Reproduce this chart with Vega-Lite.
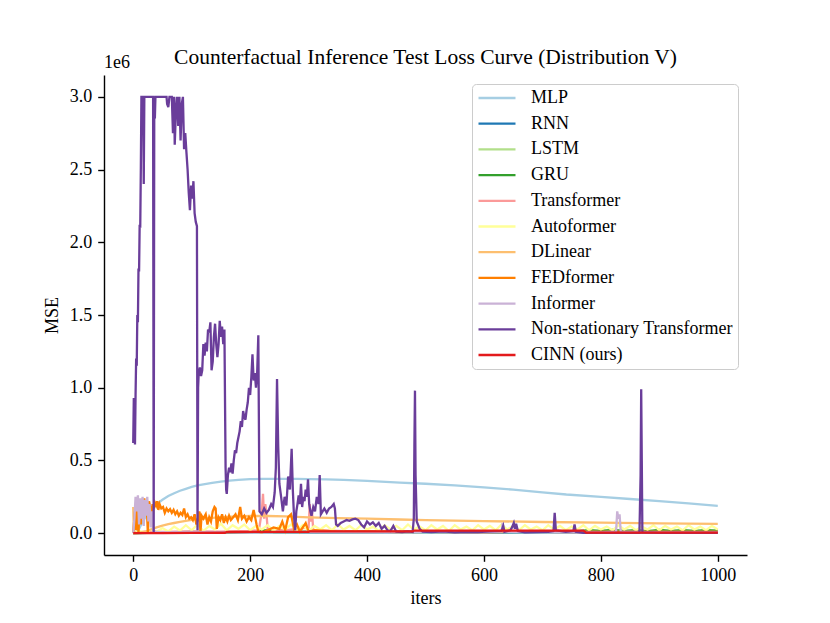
{
  "$schema": "https://vega.github.io/schema/vega-lite/v6.json",
  "width": 643,
  "height": 480,
  "autosize": {"type": "none"},
  "padding": {"left": 104, "top": 75, "right": 83, "bottom": 68},
  "background": "white",
  "title": {
    "text": "Counterfactual Inference Test Loss Curve (Distribution V)",
    "font": "Liberation Serif",
    "fontSize": 21.5,
    "fontWeight": "normal",
    "anchor": "middle",
    "offset": -14,
    "color": "black"
  },
  "config": {
    "view": {"stroke": null},
    "font": "Liberation Serif"
  },
  "layer": [
    {
      "data": {
        "values": [
          {"model": "MLP", "iter": 0, "mse": 0},
          {"model": "MLP", "iter": 5, "mse": 5000},
          {"model": "MLP", "iter": 10, "mse": 30000},
          {"model": "MLP", "iter": 15, "mse": 70000},
          {"model": "MLP", "iter": 20, "mse": 105000},
          {"model": "MLP", "iter": 25, "mse": 135000},
          {"model": "MLP", "iter": 30, "mse": 160000},
          {"model": "MLP", "iter": 40, "mse": 200000},
          {"model": "MLP", "iter": 50, "mse": 230000},
          {"model": "MLP", "iter": 60, "mse": 255000},
          {"model": "MLP", "iter": 70, "mse": 275000},
          {"model": "MLP", "iter": 80, "mse": 292000},
          {"model": "MLP", "iter": 90, "mse": 305000},
          {"model": "MLP", "iter": 100, "mse": 318000},
          {"model": "MLP", "iter": 110, "mse": 328000},
          {"model": "MLP", "iter": 120, "mse": 336000},
          {"model": "MLP", "iter": 135, "mse": 346000},
          {"model": "MLP", "iter": 150, "mse": 355000},
          {"model": "MLP", "iter": 165, "mse": 362000},
          {"model": "MLP", "iter": 180, "mse": 367000},
          {"model": "MLP", "iter": 200, "mse": 371000},
          {"model": "MLP", "iter": 220, "mse": 373000},
          {"model": "MLP", "iter": 240, "mse": 374000},
          {"model": "MLP", "iter": 260, "mse": 374000},
          {"model": "MLP", "iter": 280, "mse": 373000},
          {"model": "MLP", "iter": 300, "mse": 372000},
          {"model": "MLP", "iter": 330, "mse": 370000},
          {"model": "MLP", "iter": 360, "mse": 367000},
          {"model": "MLP", "iter": 400, "mse": 360000},
          {"model": "MLP", "iter": 456, "mse": 347000},
          {"model": "MLP", "iter": 500, "mse": 340000},
          {"model": "MLP", "iter": 550, "mse": 329000},
          {"model": "MLP", "iter": 600, "mse": 315000},
          {"model": "MLP", "iter": 650, "mse": 299000},
          {"model": "MLP", "iter": 700, "mse": 281000},
          {"model": "MLP", "iter": 741, "mse": 266000},
          {"model": "MLP", "iter": 800, "mse": 250000},
          {"model": "MLP", "iter": 850, "mse": 235000},
          {"model": "MLP", "iter": 900, "mse": 220000},
          {"model": "MLP", "iter": 950, "mse": 205000},
          {"model": "MLP", "iter": 1000, "mse": 188000},

          {"model": "RNN", "iter": 0, "mse": 0},
          {"model": "RNN", "iter": 50, "mse": 4000},
          {"model": "RNN", "iter": 100, "mse": 3000},
          {"model": "RNN", "iter": 200, "mse": 5000},
          {"model": "RNN", "iter": 300, "mse": 4000},
          {"model": "RNN", "iter": 400, "mse": 6000},
          {"model": "RNN", "iter": 500, "mse": 5000},
          {"model": "RNN", "iter": 600, "mse": 4000},
          {"model": "RNN", "iter": 700, "mse": 5000},
          {"model": "RNN", "iter": 800, "mse": 4000},
          {"model": "RNN", "iter": 900, "mse": 5000},
          {"model": "RNN", "iter": 1000, "mse": 4000},

          {"model": "LSTM", "iter": 0, "mse": 0},
          {"model": "LSTM", "iter": 100, "mse": 6000},
          {"model": "LSTM", "iter": 200, "mse": 8000},
          {"model": "LSTM", "iter": 300, "mse": 7000},
          {"model": "LSTM", "iter": 400, "mse": 9000},
          {"model": "LSTM", "iter": 500, "mse": 8000},
          {"model": "LSTM", "iter": 600, "mse": 7000},
          {"model": "LSTM", "iter": 700, "mse": 8000},
          {"model": "LSTM", "iter": 800, "mse": 9000},
          {"model": "LSTM", "iter": 900, "mse": 8000},
          {"model": "LSTM", "iter": 1000, "mse": 7000},

          {"model": "GRU", "iter": 0, "mse": 0},
          {"model": "GRU", "iter": 50, "mse": 5000},
          {"model": "GRU", "iter": 100, "mse": 8000},
          {"model": "GRU", "iter": 150, "mse": 6000},
          {"model": "GRU", "iter": 200, "mse": 10000},
          {"model": "GRU", "iter": 230, "mse": 20000},
          {"model": "GRU", "iter": 240, "mse": 8000},
          {"model": "GRU", "iter": 300, "mse": 10000},
          {"model": "GRU", "iter": 400, "mse": 8000},
          {"model": "GRU", "iter": 500, "mse": 12000},
          {"model": "GRU", "iter": 600, "mse": 10000},
          {"model": "GRU", "iter": 700, "mse": 14000},
          {"model": "GRU", "iter": 750, "mse": 10000},
          {"model": "GRU", "iter": 780, "mse": 20000},
          {"model": "GRU", "iter": 800, "mse": 15000},
          {"model": "GRU", "iter": 820, "mse": 22000},
          {"model": "GRU", "iter": 840, "mse": 15000},
          {"model": "GRU", "iter": 860, "mse": 20000},
          {"model": "GRU", "iter": 880, "mse": 14000},
          {"model": "GRU", "iter": 900, "mse": 22000},
          {"model": "GRU", "iter": 920, "mse": 16000},
          {"model": "GRU", "iter": 940, "mse": 20000},
          {"model": "GRU", "iter": 960, "mse": 15000},
          {"model": "GRU", "iter": 980, "mse": 21000},
          {"model": "GRU", "iter": 1000, "mse": 18000},

          {"model": "Transformer", "iter": 0, "mse": 0},
          {"model": "Transformer", "iter": 20, "mse": 10000},
          {"model": "Transformer", "iter": 50, "mse": 8000},
          {"model": "Transformer", "iter": 100, "mse": 12000},
          {"model": "Transformer", "iter": 150, "mse": 10000},
          {"model": "Transformer", "iter": 200, "mse": 15000},
          {"model": "Transformer", "iter": 215, "mse": 20000},
          {"model": "Transformer", "iter": 220, "mse": 150000},
          {"model": "Transformer", "iter": 222, "mse": 270000},
          {"model": "Transformer", "iter": 224, "mse": 100000},
          {"model": "Transformer", "iter": 226, "mse": 200000},
          {"model": "Transformer", "iter": 228, "mse": 130000},
          {"model": "Transformer", "iter": 230, "mse": 30000},
          {"model": "Transformer", "iter": 260, "mse": 20000},
          {"model": "Transformer", "iter": 300, "mse": 40000},
          {"model": "Transformer", "iter": 302, "mse": 200000},
          {"model": "Transformer", "iter": 304, "mse": 80000},
          {"model": "Transformer", "iter": 306, "mse": 140000},
          {"model": "Transformer", "iter": 308, "mse": 20000},
          {"model": "Transformer", "iter": 350, "mse": 15000},
          {"model": "Transformer", "iter": 400, "mse": 10000},
          {"model": "Transformer", "iter": 500, "mse": 10000},
          {"model": "Transformer", "iter": 600, "mse": 8000},
          {"model": "Transformer", "iter": 700, "mse": 10000},
          {"model": "Transformer", "iter": 800, "mse": 8000},
          {"model": "Transformer", "iter": 900, "mse": 9000},
          {"model": "Transformer", "iter": 1000, "mse": 8000},

          {"model": "Autoformer", "iter": 0, "mse": 0},
          {"model": "Autoformer", "iter": 10, "mse": 15000},
          {"model": "Autoformer", "iter": 20, "mse": 5000},
          {"model": "Autoformer", "iter": 30, "mse": 25000},
          {"model": "Autoformer", "iter": 40, "mse": 8000},
          {"model": "Autoformer", "iter": 50, "mse": 35000},
          {"model": "Autoformer", "iter": 60, "mse": 12000},
          {"model": "Autoformer", "iter": 70, "mse": 45000},
          {"model": "Autoformer", "iter": 80, "mse": 18000},
          {"model": "Autoformer", "iter": 90, "mse": 55000},
          {"model": "Autoformer", "iter": 100, "mse": 20000},
          {"model": "Autoformer", "iter": 110, "mse": 60000},
          {"model": "Autoformer", "iter": 120, "mse": 15000},
          {"model": "Autoformer", "iter": 130, "mse": 50000},
          {"model": "Autoformer", "iter": 140, "mse": 25000},
          {"model": "Autoformer", "iter": 150, "mse": 65000},
          {"model": "Autoformer", "iter": 160, "mse": 20000},
          {"model": "Autoformer", "iter": 170, "mse": 55000},
          {"model": "Autoformer", "iter": 180, "mse": 30000},
          {"model": "Autoformer", "iter": 190, "mse": 60000},
          {"model": "Autoformer", "iter": 200, "mse": 20000},
          {"model": "Autoformer", "iter": 210, "mse": 50000},
          {"model": "Autoformer", "iter": 220, "mse": 25000},
          {"model": "Autoformer", "iter": 230, "mse": 55000},
          {"model": "Autoformer", "iter": 240, "mse": 15000},
          {"model": "Autoformer", "iter": 250, "mse": 50000},
          {"model": "Autoformer", "iter": 260, "mse": 25000},
          {"model": "Autoformer", "iter": 270, "mse": 60000},
          {"model": "Autoformer", "iter": 280, "mse": 20000},
          {"model": "Autoformer", "iter": 290, "mse": 55000},
          {"model": "Autoformer", "iter": 300, "mse": 15000},
          {"model": "Autoformer", "iter": 310, "mse": 50000},
          {"model": "Autoformer", "iter": 320, "mse": 25000},
          {"model": "Autoformer", "iter": 330, "mse": 55000},
          {"model": "Autoformer", "iter": 340, "mse": 20000},
          {"model": "Autoformer", "iter": 350, "mse": 60000},
          {"model": "Autoformer", "iter": 360, "mse": 25000},
          {"model": "Autoformer", "iter": 370, "mse": 50000},
          {"model": "Autoformer", "iter": 380, "mse": 20000},
          {"model": "Autoformer", "iter": 390, "mse": 55000},
          {"model": "Autoformer", "iter": 400, "mse": 25000},
          {"model": "Autoformer", "iter": 410, "mse": 45000},
          {"model": "Autoformer", "iter": 420, "mse": 15000},
          {"model": "Autoformer", "iter": 430, "mse": 55000},
          {"model": "Autoformer", "iter": 440, "mse": 25000},
          {"model": "Autoformer", "iter": 450, "mse": 50000},
          {"model": "Autoformer", "iter": 460, "mse": 20000},
          {"model": "Autoformer", "iter": 470, "mse": 60000},
          {"model": "Autoformer", "iter": 480, "mse": 25000},
          {"model": "Autoformer", "iter": 490, "mse": 45000},
          {"model": "Autoformer", "iter": 500, "mse": 20000},
          {"model": "Autoformer", "iter": 510, "mse": 55000},
          {"model": "Autoformer", "iter": 520, "mse": 25000},
          {"model": "Autoformer", "iter": 530, "mse": 50000},
          {"model": "Autoformer", "iter": 540, "mse": 15000},
          {"model": "Autoformer", "iter": 550, "mse": 55000},
          {"model": "Autoformer", "iter": 560, "mse": 25000},
          {"model": "Autoformer", "iter": 570, "mse": 45000},
          {"model": "Autoformer", "iter": 580, "mse": 20000},
          {"model": "Autoformer", "iter": 590, "mse": 55000},
          {"model": "Autoformer", "iter": 600, "mse": 25000},
          {"model": "Autoformer", "iter": 610, "mse": 50000},
          {"model": "Autoformer", "iter": 620, "mse": 20000},
          {"model": "Autoformer", "iter": 630, "mse": 60000},
          {"model": "Autoformer", "iter": 640, "mse": 25000},
          {"model": "Autoformer", "iter": 650, "mse": 50000},
          {"model": "Autoformer", "iter": 660, "mse": 20000},
          {"model": "Autoformer", "iter": 670, "mse": 55000},
          {"model": "Autoformer", "iter": 680, "mse": 25000},
          {"model": "Autoformer", "iter": 690, "mse": 45000},
          {"model": "Autoformer", "iter": 700, "mse": 20000},
          {"model": "Autoformer", "iter": 710, "mse": 55000},
          {"model": "Autoformer", "iter": 720, "mse": 25000},
          {"model": "Autoformer", "iter": 730, "mse": 50000},
          {"model": "Autoformer", "iter": 740, "mse": 20000},
          {"model": "Autoformer", "iter": 750, "mse": 45000},
          {"model": "Autoformer", "iter": 760, "mse": 25000},
          {"model": "Autoformer", "iter": 770, "mse": 55000},
          {"model": "Autoformer", "iter": 780, "mse": 20000},
          {"model": "Autoformer", "iter": 790, "mse": 50000},
          {"model": "Autoformer", "iter": 800, "mse": 25000},
          {"model": "Autoformer", "iter": 810, "mse": 45000},
          {"model": "Autoformer", "iter": 820, "mse": 20000},
          {"model": "Autoformer", "iter": 830, "mse": 55000},
          {"model": "Autoformer", "iter": 840, "mse": 25000},
          {"model": "Autoformer", "iter": 850, "mse": 50000},
          {"model": "Autoformer", "iter": 860, "mse": 20000},
          {"model": "Autoformer", "iter": 870, "mse": 45000},
          {"model": "Autoformer", "iter": 880, "mse": 25000},
          {"model": "Autoformer", "iter": 890, "mse": 55000},
          {"model": "Autoformer", "iter": 900, "mse": 20000},
          {"model": "Autoformer", "iter": 910, "mse": 50000},
          {"model": "Autoformer", "iter": 920, "mse": 25000},
          {"model": "Autoformer", "iter": 930, "mse": 45000},
          {"model": "Autoformer", "iter": 940, "mse": 20000},
          {"model": "Autoformer", "iter": 950, "mse": 55000},
          {"model": "Autoformer", "iter": 960, "mse": 25000},
          {"model": "Autoformer", "iter": 970, "mse": 45000},
          {"model": "Autoformer", "iter": 980, "mse": 20000},
          {"model": "Autoformer", "iter": 990, "mse": 50000},
          {"model": "Autoformer", "iter": 1000, "mse": 25000},

          {"model": "DLinear", "iter": 0, "mse": 180000},
          {"model": "DLinear", "iter": 1, "mse": 20000},
          {"model": "DLinear", "iter": 3, "mse": 0},
          {"model": "DLinear", "iter": 10, "mse": 3000},
          {"model": "DLinear", "iter": 20, "mse": 10000},
          {"model": "DLinear", "iter": 30, "mse": 25000},
          {"model": "DLinear", "iter": 40, "mse": 40000},
          {"model": "DLinear", "iter": 50, "mse": 52000},
          {"model": "DLinear", "iter": 60, "mse": 62000},
          {"model": "DLinear", "iter": 70, "mse": 70000},
          {"model": "DLinear", "iter": 80, "mse": 78000},
          {"model": "DLinear", "iter": 90, "mse": 85000},
          {"model": "DLinear", "iter": 100, "mse": 91000},
          {"model": "DLinear", "iter": 120, "mse": 100000},
          {"model": "DLinear", "iter": 140, "mse": 107000},
          {"model": "DLinear", "iter": 160, "mse": 112000},
          {"model": "DLinear", "iter": 180, "mse": 116000},
          {"model": "DLinear", "iter": 200, "mse": 118000},
          {"model": "DLinear", "iter": 230, "mse": 118000},
          {"model": "DLinear", "iter": 260, "mse": 115000},
          {"model": "DLinear", "iter": 300, "mse": 109000},
          {"model": "DLinear", "iter": 350, "mse": 104000},
          {"model": "DLinear", "iter": 400, "mse": 100000},
          {"model": "DLinear", "iter": 456, "mse": 94000},
          {"model": "DLinear", "iter": 500, "mse": 90000},
          {"model": "DLinear", "iter": 600, "mse": 83000},
          {"model": "DLinear", "iter": 700, "mse": 77000},
          {"model": "DLinear", "iter": 800, "mse": 72000},
          {"model": "DLinear", "iter": 900, "mse": 68000},
          {"model": "DLinear", "iter": 1000, "mse": 64000},

          {"model": "FEDformer", "iter": 0, "mse": 0},
          {"model": "FEDformer", "iter": 3, "mse": 150000},
          {"model": "FEDformer", "iter": 5, "mse": 20000},
          {"model": "FEDformer", "iter": 7, "mse": 190000},
          {"model": "FEDformer", "iter": 9, "mse": 0},
          {"model": "FEDformer", "iter": 11, "mse": 220000},
          {"model": "FEDformer", "iter": 13, "mse": 60000},
          {"model": "FEDformer", "iter": 15, "mse": 230000},
          {"model": "FEDformer", "iter": 17, "mse": 100000},
          {"model": "FEDformer", "iter": 19, "mse": 240000},
          {"model": "FEDformer", "iter": 21, "mse": 150000},
          {"model": "FEDformer", "iter": 23, "mse": 200000},
          {"model": "FEDformer", "iter": 25, "mse": 0},
          {"model": "FEDformer", "iter": 27, "mse": 220000},
          {"model": "FEDformer", "iter": 29, "mse": 180000},
          {"model": "FEDformer", "iter": 31, "mse": 60000},
          {"model": "FEDformer", "iter": 33, "mse": 200000},
          {"model": "FEDformer", "iter": 35, "mse": 170000},
          {"model": "FEDformer", "iter": 37, "mse": 210000},
          {"model": "FEDformer", "iter": 39, "mse": 190000},
          {"model": "FEDformer", "iter": 41, "mse": 220000},
          {"model": "FEDformer", "iter": 43, "mse": 160000},
          {"model": "FEDformer", "iter": 45, "mse": 200000},
          {"model": "FEDformer", "iter": 48, "mse": 170000},
          {"model": "FEDformer", "iter": 51, "mse": 180000},
          {"model": "FEDformer", "iter": 54, "mse": 140000},
          {"model": "FEDformer", "iter": 57, "mse": 170000},
          {"model": "FEDformer", "iter": 60, "mse": 150000},
          {"model": "FEDformer", "iter": 63, "mse": 165000},
          {"model": "FEDformer", "iter": 66, "mse": 140000},
          {"model": "FEDformer", "iter": 69, "mse": 160000},
          {"model": "FEDformer", "iter": 72, "mse": 130000},
          {"model": "FEDformer", "iter": 75, "mse": 150000},
          {"model": "FEDformer", "iter": 78, "mse": 120000},
          {"model": "FEDformer", "iter": 81, "mse": 140000},
          {"model": "FEDformer", "iter": 84, "mse": 125000},
          {"model": "FEDformer", "iter": 87, "mse": 170000},
          {"model": "FEDformer", "iter": 90, "mse": 110000},
          {"model": "FEDformer", "iter": 93, "mse": 130000},
          {"model": "FEDformer", "iter": 96, "mse": 100000},
          {"model": "FEDformer", "iter": 99, "mse": 110000},
          {"model": "FEDformer", "iter": 102, "mse": 90000},
          {"model": "FEDformer", "iter": 105, "mse": 130000},
          {"model": "FEDformer", "iter": 108, "mse": 60000},
          {"model": "FEDformer", "iter": 111, "mse": 100000},
          {"model": "FEDformer", "iter": 113, "mse": 150000},
          {"model": "FEDformer", "iter": 115, "mse": 10000},
          {"model": "FEDformer", "iter": 117, "mse": 120000},
          {"model": "FEDformer", "iter": 120, "mse": 100000},
          {"model": "FEDformer", "iter": 124, "mse": 130000},
          {"model": "FEDformer", "iter": 127, "mse": 60000},
          {"model": "FEDformer", "iter": 130, "mse": 110000},
          {"model": "FEDformer", "iter": 133, "mse": 80000},
          {"model": "FEDformer", "iter": 136, "mse": 150000},
          {"model": "FEDformer", "iter": 139, "mse": 180000},
          {"model": "FEDformer", "iter": 141, "mse": 170000},
          {"model": "FEDformer", "iter": 143, "mse": 30000},
          {"model": "FEDformer", "iter": 146, "mse": 110000},
          {"model": "FEDformer", "iter": 149, "mse": 90000},
          {"model": "FEDformer", "iter": 152, "mse": 130000},
          {"model": "FEDformer", "iter": 155, "mse": 70000},
          {"model": "FEDformer", "iter": 158, "mse": 110000},
          {"model": "FEDformer", "iter": 161, "mse": 80000},
          {"model": "FEDformer", "iter": 164, "mse": 120000},
          {"model": "FEDformer", "iter": 167, "mse": 90000},
          {"model": "FEDformer", "iter": 171, "mse": 110000},
          {"model": "FEDformer", "iter": 175, "mse": 130000},
          {"model": "FEDformer", "iter": 179, "mse": 90000},
          {"model": "FEDformer", "iter": 183, "mse": 180000},
          {"model": "FEDformer", "iter": 186, "mse": 100000},
          {"model": "FEDformer", "iter": 190, "mse": 120000},
          {"model": "FEDformer", "iter": 194, "mse": 80000},
          {"model": "FEDformer", "iter": 198, "mse": 110000},
          {"model": "FEDformer", "iter": 202, "mse": 90000},
          {"model": "FEDformer", "iter": 206, "mse": 160000},
          {"model": "FEDformer", "iter": 209, "mse": 100000},
          {"model": "FEDformer", "iter": 211, "mse": 60000},
          {"model": "FEDformer", "iter": 214, "mse": 10000},
          {"model": "FEDformer", "iter": 220, "mse": 5000},
          {"model": "FEDformer", "iter": 230, "mse": 20000},
          {"model": "FEDformer", "iter": 240, "mse": 40000},
          {"model": "FEDformer", "iter": 250, "mse": 30000},
          {"model": "FEDformer", "iter": 255, "mse": 80000},
          {"model": "FEDformer", "iter": 260, "mse": 20000},
          {"model": "FEDformer", "iter": 265, "mse": 110000},
          {"model": "FEDformer", "iter": 270, "mse": 130000},
          {"model": "FEDformer", "iter": 275, "mse": 30000},
          {"model": "FEDformer", "iter": 280, "mse": 60000},
          {"model": "FEDformer", "iter": 285, "mse": 10000},
          {"model": "FEDformer", "iter": 290, "mse": 40000},
          {"model": "FEDformer", "iter": 295, "mse": 70000},
          {"model": "FEDformer", "iter": 300, "mse": 10000},
          {"model": "FEDformer", "iter": 310, "mse": 20000},
          {"model": "FEDformer", "iter": 330, "mse": 15000},
          {"model": "FEDformer", "iter": 350, "mse": 10000},
          {"model": "FEDformer", "iter": 400, "mse": 12000},
          {"model": "FEDformer", "iter": 450, "mse": 8000},
          {"model": "FEDformer", "iter": 500, "mse": 10000},
          {"model": "FEDformer", "iter": 600, "mse": 8000},
          {"model": "FEDformer", "iter": 700, "mse": 9000},
          {"model": "FEDformer", "iter": 800, "mse": 8000},
          {"model": "FEDformer", "iter": 900, "mse": 9000},
          {"model": "FEDformer", "iter": 1000, "mse": 8000},

          {"model": "Informer", "iter": 0, "mse": 0},
          {"model": "Informer", "iter": 2, "mse": 100000},
          {"model": "Informer", "iter": 4, "mse": 250000},
          {"model": "Informer", "iter": 6, "mse": 150000},
          {"model": "Informer", "iter": 8, "mse": 260000},
          {"model": "Informer", "iter": 10, "mse": 60000},
          {"model": "Informer", "iter": 12, "mse": 240000},
          {"model": "Informer", "iter": 14, "mse": 100000},
          {"model": "Informer", "iter": 16, "mse": 250000},
          {"model": "Informer", "iter": 18, "mse": 50000},
          {"model": "Informer", "iter": 20, "mse": 230000},
          {"model": "Informer", "iter": 22, "mse": 120000},
          {"model": "Informer", "iter": 24, "mse": 250000},
          {"model": "Informer", "iter": 26, "mse": 80000},
          {"model": "Informer", "iter": 28, "mse": 200000},
          {"model": "Informer", "iter": 30, "mse": 40000},
          {"model": "Informer", "iter": 32, "mse": 150000},
          {"model": "Informer", "iter": 34, "mse": 20000},
          {"model": "Informer", "iter": 38, "mse": 10000},
          {"model": "Informer", "iter": 50, "mse": 5000},
          {"model": "Informer", "iter": 100, "mse": 8000},
          {"model": "Informer", "iter": 200, "mse": 6000},
          {"model": "Informer", "iter": 300, "mse": 8000},
          {"model": "Informer", "iter": 400, "mse": 6000},
          {"model": "Informer", "iter": 500, "mse": 10000},
          {"model": "Informer", "iter": 600, "mse": 8000},
          {"model": "Informer", "iter": 630, "mse": 10000},
          {"model": "Informer", "iter": 632, "mse": 70000},
          {"model": "Informer", "iter": 634, "mse": 10000},
          {"model": "Informer", "iter": 700, "mse": 8000},
          {"model": "Informer", "iter": 800, "mse": 6000},
          {"model": "Informer", "iter": 826, "mse": 10000},
          {"model": "Informer", "iter": 828, "mse": 150000},
          {"model": "Informer", "iter": 830, "mse": 100000},
          {"model": "Informer", "iter": 832, "mse": 130000},
          {"model": "Informer", "iter": 834, "mse": 10000},
          {"model": "Informer", "iter": 900, "mse": 6000},
          {"model": "Informer", "iter": 1000, "mse": 5000},

          {"model": "Non-stationary Transformer", "iter": 0, "mse": 620000},
          {"model": "Non-stationary Transformer", "iter": 1, "mse": 930000},
          {"model": "Non-stationary Transformer", "iter": 2, "mse": 880000},
          {"model": "Non-stationary Transformer", "iter": 3, "mse": 610000},
          {"model": "Non-stationary Transformer", "iter": 4, "mse": 950000},
          {"model": "Non-stationary Transformer", "iter": 5, "mse": 1200000},
          {"model": "Non-stationary Transformer", "iter": 6, "mse": 1150000},
          {"model": "Non-stationary Transformer", "iter": 7, "mse": 1500000},
          {"model": "Non-stationary Transformer", "iter": 8, "mse": 1450000},
          {"model": "Non-stationary Transformer", "iter": 9, "mse": 1820000},
          {"model": "Non-stationary Transformer", "iter": 10, "mse": 1800000},
          {"model": "Non-stationary Transformer", "iter": 11, "mse": 2120000},
          {"model": "Non-stationary Transformer", "iter": 12, "mse": 2100000},
          {"model": "Non-stationary Transformer", "iter": 13, "mse": 2500000},
          {"model": "Non-stationary Transformer", "iter": 14, "mse": 3000000},
          {"model": "Non-stationary Transformer", "iter": 17, "mse": 3000000},
          {"model": "Non-stationary Transformer", "iter": 18, "mse": 2400000},
          {"model": "Non-stationary Transformer", "iter": 19, "mse": 3000000},
          {"model": "Non-stationary Transformer", "iter": 34, "mse": 3000000},
          {"model": "Non-stationary Transformer", "iter": 35, "mse": 0},
          {"model": "Non-stationary Transformer", "iter": 36, "mse": 3000000},
          {"model": "Non-stationary Transformer", "iter": 37, "mse": 2850000},
          {"model": "Non-stationary Transformer", "iter": 38, "mse": 3000000},
          {"model": "Non-stationary Transformer", "iter": 57, "mse": 3000000},
          {"model": "Non-stationary Transformer", "iter": 58, "mse": 2950000},
          {"model": "Non-stationary Transformer", "iter": 60, "mse": 2930000},
          {"model": "Non-stationary Transformer", "iter": 62, "mse": 3000000},
          {"model": "Non-stationary Transformer", "iter": 66, "mse": 3000000},
          {"model": "Non-stationary Transformer", "iter": 68, "mse": 2750000},
          {"model": "Non-stationary Transformer", "iter": 70, "mse": 3000000},
          {"model": "Non-stationary Transformer", "iter": 71, "mse": 2670000},
          {"model": "Non-stationary Transformer", "iter": 73, "mse": 2900000},
          {"model": "Non-stationary Transformer", "iter": 75, "mse": 3000000},
          {"model": "Non-stationary Transformer", "iter": 77, "mse": 2800000},
          {"model": "Non-stationary Transformer", "iter": 79, "mse": 3000000},
          {"model": "Non-stationary Transformer", "iter": 81, "mse": 2700000},
          {"model": "Non-stationary Transformer", "iter": 83, "mse": 2950000},
          {"model": "Non-stationary Transformer", "iter": 85, "mse": 3000000},
          {"model": "Non-stationary Transformer", "iter": 87, "mse": 2640000},
          {"model": "Non-stationary Transformer", "iter": 89, "mse": 2750000},
          {"model": "Non-stationary Transformer", "iter": 91, "mse": 2620000},
          {"model": "Non-stationary Transformer", "iter": 93, "mse": 2500000},
          {"model": "Non-stationary Transformer", "iter": 95, "mse": 2340000},
          {"model": "Non-stationary Transformer", "iter": 97, "mse": 2220000},
          {"model": "Non-stationary Transformer", "iter": 99, "mse": 2390000},
          {"model": "Non-stationary Transformer", "iter": 101, "mse": 2300000},
          {"model": "Non-stationary Transformer", "iter": 103, "mse": 2420000},
          {"model": "Non-stationary Transformer", "iter": 105, "mse": 2200000},
          {"model": "Non-stationary Transformer", "iter": 107, "mse": 2140000},
          {"model": "Non-stationary Transformer", "iter": 109, "mse": 2110000},
          {"model": "Non-stationary Transformer", "iter": 110, "mse": 20000},
          {"model": "Non-stationary Transformer", "iter": 111, "mse": 1000000},
          {"model": "Non-stationary Transformer", "iter": 112, "mse": 1100000},
          {"model": "Non-stationary Transformer", "iter": 114, "mse": 1140000},
          {"model": "Non-stationary Transformer", "iter": 116, "mse": 1080000},
          {"model": "Non-stationary Transformer", "iter": 118, "mse": 1120000},
          {"model": "Non-stationary Transformer", "iter": 120, "mse": 1300000},
          {"model": "Non-stationary Transformer", "iter": 122, "mse": 1220000},
          {"model": "Non-stationary Transformer", "iter": 124, "mse": 1310000},
          {"model": "Non-stationary Transformer", "iter": 126, "mse": 1250000},
          {"model": "Non-stationary Transformer", "iter": 128, "mse": 1400000},
          {"model": "Non-stationary Transformer", "iter": 130, "mse": 1380000},
          {"model": "Non-stationary Transformer", "iter": 132, "mse": 1450000},
          {"model": "Non-stationary Transformer", "iter": 134, "mse": 1120000},
          {"model": "Non-stationary Transformer", "iter": 136, "mse": 1180000},
          {"model": "Non-stationary Transformer", "iter": 138, "mse": 1350000},
          {"model": "Non-stationary Transformer", "iter": 140, "mse": 1440000},
          {"model": "Non-stationary Transformer", "iter": 142, "mse": 1300000},
          {"model": "Non-stationary Transformer", "iter": 144, "mse": 1210000},
          {"model": "Non-stationary Transformer", "iter": 146, "mse": 1300000},
          {"model": "Non-stationary Transformer", "iter": 148, "mse": 1460000},
          {"model": "Non-stationary Transformer", "iter": 150, "mse": 1350000},
          {"model": "Non-stationary Transformer", "iter": 152, "mse": 1420000},
          {"model": "Non-stationary Transformer", "iter": 154, "mse": 1300000},
          {"model": "Non-stationary Transformer", "iter": 156, "mse": 1400000},
          {"model": "Non-stationary Transformer", "iter": 158, "mse": 450000},
          {"model": "Non-stationary Transformer", "iter": 159, "mse": 300000},
          {"model": "Non-stationary Transformer", "iter": 160, "mse": 270000},
          {"model": "Non-stationary Transformer", "iter": 162, "mse": 400000},
          {"model": "Non-stationary Transformer", "iter": 164, "mse": 450000},
          {"model": "Non-stationary Transformer", "iter": 166, "mse": 420000},
          {"model": "Non-stationary Transformer", "iter": 168, "mse": 480000},
          {"model": "Non-stationary Transformer", "iter": 170, "mse": 410000},
          {"model": "Non-stationary Transformer", "iter": 172, "mse": 500000},
          {"model": "Non-stationary Transformer", "iter": 174, "mse": 570000},
          {"model": "Non-stationary Transformer", "iter": 176, "mse": 550000},
          {"model": "Non-stationary Transformer", "iter": 178, "mse": 620000},
          {"model": "Non-stationary Transformer", "iter": 180, "mse": 660000},
          {"model": "Non-stationary Transformer", "iter": 182, "mse": 700000},
          {"model": "Non-stationary Transformer", "iter": 184, "mse": 770000},
          {"model": "Non-stationary Transformer", "iter": 186, "mse": 730000},
          {"model": "Non-stationary Transformer", "iter": 188, "mse": 840000},
          {"model": "Non-stationary Transformer", "iter": 190, "mse": 800000},
          {"model": "Non-stationary Transformer", "iter": 192, "mse": 780000},
          {"model": "Non-stationary Transformer", "iter": 194, "mse": 850000},
          {"model": "Non-stationary Transformer", "iter": 196, "mse": 900000},
          {"model": "Non-stationary Transformer", "iter": 198, "mse": 1000000},
          {"model": "Non-stationary Transformer", "iter": 200, "mse": 950000},
          {"model": "Non-stationary Transformer", "iter": 202, "mse": 1070000},
          {"model": "Non-stationary Transformer", "iter": 204, "mse": 1230000},
          {"model": "Non-stationary Transformer", "iter": 206, "mse": 1050000},
          {"model": "Non-stationary Transformer", "iter": 208, "mse": 1100000},
          {"model": "Non-stationary Transformer", "iter": 210, "mse": 1000000},
          {"model": "Non-stationary Transformer", "iter": 212, "mse": 1100000},
          {"model": "Non-stationary Transformer", "iter": 214, "mse": 1360000},
          {"model": "Non-stationary Transformer", "iter": 216, "mse": 150000},
          {"model": "Non-stationary Transformer", "iter": 220, "mse": 130000},
          {"model": "Non-stationary Transformer", "iter": 224, "mse": 170000},
          {"model": "Non-stationary Transformer", "iter": 228, "mse": 140000},
          {"model": "Non-stationary Transformer", "iter": 232, "mse": 160000},
          {"model": "Non-stationary Transformer", "iter": 236, "mse": 200000},
          {"model": "Non-stationary Transformer", "iter": 239, "mse": 180000},
          {"model": "Non-stationary Transformer", "iter": 242, "mse": 280000},
          {"model": "Non-stationary Transformer", "iter": 244, "mse": 450000},
          {"model": "Non-stationary Transformer", "iter": 246, "mse": 1060000},
          {"model": "Non-stationary Transformer", "iter": 248, "mse": 600000},
          {"model": "Non-stationary Transformer", "iter": 250, "mse": 340000},
          {"model": "Non-stationary Transformer", "iter": 253, "mse": 250000},
          {"model": "Non-stationary Transformer", "iter": 256, "mse": 150000},
          {"model": "Non-stationary Transformer", "iter": 259, "mse": 250000},
          {"model": "Non-stationary Transformer", "iter": 262, "mse": 190000},
          {"model": "Non-stationary Transformer", "iter": 265, "mse": 390000},
          {"model": "Non-stationary Transformer", "iter": 268, "mse": 300000},
          {"model": "Non-stationary Transformer", "iter": 271, "mse": 580000},
          {"model": "Non-stationary Transformer", "iter": 273, "mse": 300000},
          {"model": "Non-stationary Transformer", "iter": 275, "mse": 120000},
          {"model": "Non-stationary Transformer", "iter": 277, "mse": 20000},
          {"model": "Non-stationary Transformer", "iter": 279, "mse": 150000},
          {"model": "Non-stationary Transformer", "iter": 281, "mse": 200000},
          {"model": "Non-stationary Transformer", "iter": 283, "mse": 260000},
          {"model": "Non-stationary Transformer", "iter": 285, "mse": 200000},
          {"model": "Non-stationary Transformer", "iter": 287, "mse": 340000},
          {"model": "Non-stationary Transformer", "iter": 289, "mse": 180000},
          {"model": "Non-stationary Transformer", "iter": 291, "mse": 250000},
          {"model": "Non-stationary Transformer", "iter": 293, "mse": 220000},
          {"model": "Non-stationary Transformer", "iter": 295, "mse": 300000},
          {"model": "Non-stationary Transformer", "iter": 297, "mse": 250000},
          {"model": "Non-stationary Transformer", "iter": 299, "mse": 370000},
          {"model": "Non-stationary Transformer", "iter": 301, "mse": 200000},
          {"model": "Non-stationary Transformer", "iter": 303, "mse": 150000},
          {"model": "Non-stationary Transformer", "iter": 305, "mse": 120000},
          {"model": "Non-stationary Transformer", "iter": 308, "mse": 180000},
          {"model": "Non-stationary Transformer", "iter": 311, "mse": 150000},
          {"model": "Non-stationary Transformer", "iter": 314, "mse": 250000},
          {"model": "Non-stationary Transformer", "iter": 317, "mse": 200000},
          {"model": "Non-stationary Transformer", "iter": 319, "mse": 400000},
          {"model": "Non-stationary Transformer", "iter": 321, "mse": 130000},
          {"model": "Non-stationary Transformer", "iter": 324, "mse": 150000},
          {"model": "Non-stationary Transformer", "iter": 327, "mse": 170000},
          {"model": "Non-stationary Transformer", "iter": 331, "mse": 140000},
          {"model": "Non-stationary Transformer", "iter": 335, "mse": 170000},
          {"model": "Non-stationary Transformer", "iter": 339, "mse": 180000},
          {"model": "Non-stationary Transformer", "iter": 343, "mse": 200000},
          {"model": "Non-stationary Transformer", "iter": 345, "mse": 170000},
          {"model": "Non-stationary Transformer", "iter": 347, "mse": 60000},
          {"model": "Non-stationary Transformer", "iter": 350, "mse": 50000},
          {"model": "Non-stationary Transformer", "iter": 355, "mse": 70000},
          {"model": "Non-stationary Transformer", "iter": 360, "mse": 80000},
          {"model": "Non-stationary Transformer", "iter": 365, "mse": 90000},
          {"model": "Non-stationary Transformer", "iter": 370, "mse": 85000},
          {"model": "Non-stationary Transformer", "iter": 375, "mse": 95000},
          {"model": "Non-stationary Transformer", "iter": 380, "mse": 100000},
          {"model": "Non-stationary Transformer", "iter": 385, "mse": 90000},
          {"model": "Non-stationary Transformer", "iter": 390, "mse": 60000},
          {"model": "Non-stationary Transformer", "iter": 395, "mse": 40000},
          {"model": "Non-stationary Transformer", "iter": 400, "mse": 80000},
          {"model": "Non-stationary Transformer", "iter": 405, "mse": 60000},
          {"model": "Non-stationary Transformer", "iter": 410, "mse": 75000},
          {"model": "Non-stationary Transformer", "iter": 415, "mse": 50000},
          {"model": "Non-stationary Transformer", "iter": 420, "mse": 70000},
          {"model": "Non-stationary Transformer", "iter": 425, "mse": 30000},
          {"model": "Non-stationary Transformer", "iter": 430, "mse": 50000},
          {"model": "Non-stationary Transformer", "iter": 435, "mse": 20000},
          {"model": "Non-stationary Transformer", "iter": 440, "mse": 15000},
          {"model": "Non-stationary Transformer", "iter": 445, "mse": 50000},
          {"model": "Non-stationary Transformer", "iter": 450, "mse": 10000},
          {"model": "Non-stationary Transformer", "iter": 460, "mse": 8000},
          {"model": "Non-stationary Transformer", "iter": 470, "mse": 12000},
          {"model": "Non-stationary Transformer", "iter": 478, "mse": 8000},
          {"model": "Non-stationary Transformer", "iter": 480, "mse": 100000},
          {"model": "Non-stationary Transformer", "iter": 481, "mse": 600000},
          {"model": "Non-stationary Transformer", "iter": 482, "mse": 980000},
          {"model": "Non-stationary Transformer", "iter": 483, "mse": 400000},
          {"model": "Non-stationary Transformer", "iter": 485, "mse": 80000},
          {"model": "Non-stationary Transformer", "iter": 488, "mse": 50000},
          {"model": "Non-stationary Transformer", "iter": 490, "mse": 30000},
          {"model": "Non-stationary Transformer", "iter": 495, "mse": 10000},
          {"model": "Non-stationary Transformer", "iter": 510, "mse": 8000},
          {"model": "Non-stationary Transformer", "iter": 530, "mse": 12000},
          {"model": "Non-stationary Transformer", "iter": 550, "mse": 6000},
          {"model": "Non-stationary Transformer", "iter": 570, "mse": 10000},
          {"model": "Non-stationary Transformer", "iter": 590, "mse": 8000},
          {"model": "Non-stationary Transformer", "iter": 610, "mse": 12000},
          {"model": "Non-stationary Transformer", "iter": 630, "mse": 15000},
          {"model": "Non-stationary Transformer", "iter": 633, "mse": 50000},
          {"model": "Non-stationary Transformer", "iter": 635, "mse": 10000},
          {"model": "Non-stationary Transformer", "iter": 645, "mse": 20000},
          {"model": "Non-stationary Transformer", "iter": 648, "mse": 40000},
          {"model": "Non-stationary Transformer", "iter": 651, "mse": 70000},
          {"model": "Non-stationary Transformer", "iter": 653, "mse": 30000},
          {"model": "Non-stationary Transformer", "iter": 655, "mse": 65000},
          {"model": "Non-stationary Transformer", "iter": 658, "mse": 15000},
          {"model": "Non-stationary Transformer", "iter": 670, "mse": 5000},
          {"model": "Non-stationary Transformer", "iter": 690, "mse": 8000},
          {"model": "Non-stationary Transformer", "iter": 710, "mse": 10000},
          {"model": "Non-stationary Transformer", "iter": 719, "mse": 15000},
          {"model": "Non-stationary Transformer", "iter": 721, "mse": 140000},
          {"model": "Non-stationary Transformer", "iter": 723, "mse": 20000},
          {"model": "Non-stationary Transformer", "iter": 740, "mse": 10000},
          {"model": "Non-stationary Transformer", "iter": 753, "mse": 15000},
          {"model": "Non-stationary Transformer", "iter": 755, "mse": 60000},
          {"model": "Non-stationary Transformer", "iter": 757, "mse": 10000},
          {"model": "Non-stationary Transformer", "iter": 770, "mse": 3000},
          {"model": "Non-stationary Transformer", "iter": 800, "mse": 2000},
          {"model": "Non-stationary Transformer", "iter": 850, "mse": 2000},
          {"model": "Non-stationary Transformer", "iter": 866, "mse": 3000},
          {"model": "Non-stationary Transformer", "iter": 868, "mse": 400000},
          {"model": "Non-stationary Transformer", "iter": 869, "mse": 990000},
          {"model": "Non-stationary Transformer", "iter": 870, "mse": 500000},
          {"model": "Non-stationary Transformer", "iter": 871, "mse": 5000},
          {"model": "Non-stationary Transformer", "iter": 900, "mse": 2000},
          {"model": "Non-stationary Transformer", "iter": 950, "mse": 2000},
          {"model": "Non-stationary Transformer", "iter": 1000, "mse": 2000},

          {"model": "CINN (ours)", "iter": 0, "mse": 0},
          {"model": "CINN (ours)", "iter": 50, "mse": 1000},
          {"model": "CINN (ours)", "iter": 100, "mse": 2000},
          {"model": "CINN (ours)", "iter": 157, "mse": 3000},
          {"model": "CINN (ours)", "iter": 160, "mse": 8000},
          {"model": "CINN (ours)", "iter": 300, "mse": 9000},
          {"model": "CINN (ours)", "iter": 302, "mse": 12000},
          {"model": "CINN (ours)", "iter": 478, "mse": 12000},
          {"model": "CINN (ours)", "iter": 481, "mse": 18000},
          {"model": "CINN (ours)", "iter": 770, "mse": 18000},
          {"model": "CINN (ours)", "iter": 775, "mse": 4000},
          {"model": "CINN (ours)", "iter": 1000, "mse": 4000}
        ]
      },
      "mark": {"type": "line", "strokeWidth": 2.3, "clip": true},
      "encoding": {
        "x": {
          "field": "iter",
          "type": "quantitative",
          "scale": {"domain": [-50, 1050], "nice": false, "zero": false},
          "axis": {
            "title": "iters",
            "values": [0, 200, 400, 600, 800, 1000],
            "format": "d",
            "grid": false,
            "domainColor": "black",
            "domainWidth": 1.4,
            "tickColor": "black",
            "tickWidth": 1.4,
            "tickSize": 6.3,
            "labelFont": "Liberation Serif",
            "labelFontSize": 18,
            "labelColor": "black",
            "labelPadding": 5,
            "labelFlush": false,
            "titleFont": "Liberation Serif",
            "titleFontSize": 18,
            "titleFontWeight": "normal",
            "titleColor": "black",
            "titlePadding": 5
          }
        },
        "y": {
          "field": "mse",
          "type": "quantitative",
          "scale": {"domain": [-150000, 3150000], "nice": false, "zero": false},
          "axis": {
            "title": "MSE",
            "values": [0, 500000, 1000000, 1500000, 2000000, 2500000, 3000000],
            "labelExpr": "format(datum.value / 1000000, '.1f')",
            "grid": false,
            "domainColor": "black",
            "domainWidth": 1.4,
            "tickColor": "black",
            "tickWidth": 1.4,
            "tickSize": 6.3,
            "labelFont": "Liberation Serif",
            "labelFontSize": 18,
            "labelColor": "black",
            "labelPadding": 6,
            "titleFont": "Liberation Serif",
            "titleFontSize": 18,
            "titleFontWeight": "normal",
            "titleColor": "black",
            "titlePadding": 8
          }
        },
        "color": {
          "field": "model",
          "type": "nominal",
          "scale": {
            "domain": ["MLP", "RNN", "LSTM", "GRU", "Transformer", "Autoformer", "DLinear", "FEDformer", "Informer", "Non-stationary Transformer", "CINN (ours)"],
            "range": ["#a6cee3", "#1f78b4", "#b2df8a", "#33a02c", "#fb9a99", "#ffff99", "#fdbf6f", "#ff7f00", "#cab2d6", "#6a3d9a", "#e31a1c"]
          },
          "legend": {
            "title": null,
            "orient": "top-right",
            "offset": 9,
            "symbolType": "M-3,0H3",
            "symbolSize": 152,
            "symbolStrokeWidth": 2.3,
            "symbolOffset": 11,
            "labelFont": "Liberation Serif",
            "labelFontSize": 18,
            "labelColor": "black",
            "labelLimit": 400,
            "labelOffset": 25,
            "rowPadding": 7.7,
            "padding": 5,
            "strokeColor": "#cccccc",
            "fillColor": "rgba(255,255,255,0.8)",
            "cornerRadius": 4
          }
        }
      }
    },
    {
      "data": {"values": [{"iter": -50, "mse": 3150000, "label": "1e6"}]},
      "mark": {"type": "text", "align": "left", "baseline": "bottom", "dy": -3, "fontSize": 18, "font": "Liberation Serif", "color": "black"},
      "encoding": {
        "x": {"field": "iter", "type": "quantitative"},
        "y": {"field": "mse", "type": "quantitative"},
        "text": {"field": "label"}
      }
    }
  ]
}
